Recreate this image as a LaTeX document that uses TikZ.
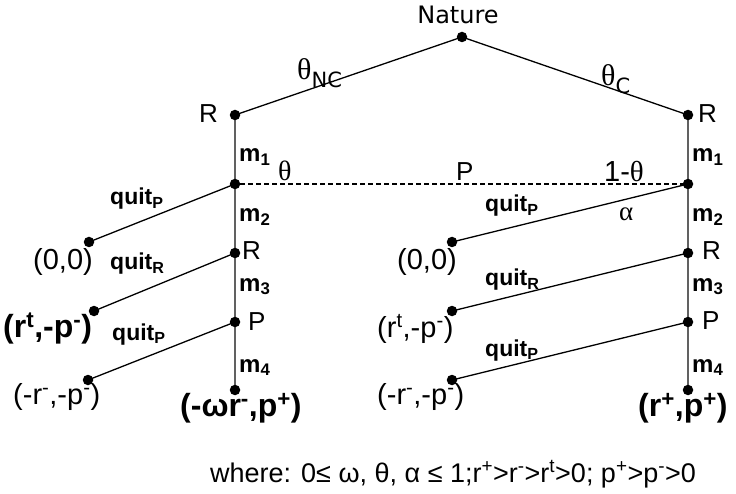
\documentclass[tikz,border=0pt]{standalone}
\usepackage{fontspec}
\setmainfont{Liberation Sans}
\newfontfamily\natfont{DejaVu Sans}
\newfontfamily\greekfont{Liberation Serif}
\usetikzlibrary{positioning,backgrounds}

\tikzset{
	dot/.style={circle, fill=black, inner sep=0pt, minimum size=10.5pt},
	branch/.style={line width=1.3pt},
	spine/.style={line width=2.4pt, draw=black!62},
	lbl/.style={inner sep=0pt, anchor=base west, font=\fontsize{26}{30}\selectfont},
	paylbl/.style={lbl, font=\fontsize{29}{33}\selectfont},
	boldpay/.style={lbl, font=\bfseries\fontsize{32}{36}\selectfont},
	mlbl/.style={lbl, font=\bfseries\fontsize{24}{28}\selectfont},
	qlbl/.style={lbl, font=\bfseries\fontsize{23}{27}\selectfont}
}
\newcommand{\thet}{{\greekfont θ}}

\begin{document}
\begin{tikzpicture}[x=1pt,y=-1pt]
	\useasboundingbox (0,0) rectangle (736,494);

	% decision nodes
	\node[dot] (nat) at (462,37) {};
	\foreach \s/\x in {L/235,R/688} {
		\node[dot] (r\s) at (\x,115) {};
		\node[dot] (p\s) at (\x,184) {};
		\node[dot] (rr\s) at (\x,253) {};
		\node[dot] (pp\s) at (\x,322) {};
		\node[dot] (end\s) at (\x,390) {};
	}
	% terminal nodes after quitting
	\node[dot] (qL1) at (89,242) {};
	\node[dot] (qL2) at (94,311) {};
	\node[dot] (qL3) at (88,380) {};
	\node[dot] (qR1) at (452,242) {};
	\node[dot] (qR2) at (452,311) {};
	\node[dot] (qR3) at (452,380) {};

	\begin{scope}[on background layer]
	\draw[branch] (nat.center) -- (rL.center);
	\draw[branch] (nat.center) -- (rR.center);
	\foreach \s in {L,R} {
		\draw[spine] (r\s.center) -- (p\s.center) -- (rr\s.center) -- (pp\s.center) -- (end\s.center);
		\draw[branch] (p\s.center) -- (q\s1.center);
		\draw[branch] (rr\s.center) -- (q\s2.center);
		\draw[branch] (pp\s.center) -- (q\s3.center);
	}
	\draw[branch, line width=1.1pt, dash pattern=on 4.5pt off 3.5pt] (pL) -- (pR);
	\end{scope}

	% labels
	\node[lbl, anchor=base, font=\natfont\fontsize{24}{28}\selectfont] (natlbl) at (458,24) {Nature};
	\node[lbl] (thnc) at (297,80) {\fontsize{30}{34}\selectfont\thet\textsubscript{\natfont NC}};
	\node[lbl] (thc) at (601,86) {\fontsize{30}{34}\selectfont\thet\textsubscript{\natfont C}};
	\node[lbl] (rLlbl) at (199,123) {R};
	\node[lbl] (rRlbl) at (698,123) {R};
	\node[lbl] (thlbl) at (278,181) {\fontsize{28}{32}\selectfont\thet};
	\node[lbl] (plbl) at (456,181) {P};
	\node[lbl, font=\fontsize{29}{33}\selectfont] (omth) at (604,182) {1-\thet};
	\node[lbl] (alpha) at (619,221) {\fontsize{27}{31}\selectfont{\greekfont α}};
	\node[lbl] (rrLlbl) at (242,260) {R};
	\node[lbl] (rrRlbl) at (702,260) {R};
	\node[lbl] (ppLlbl) at (248,330) {P};
	\node[lbl] (ppRlbl) at (702,329) {P};

	\foreach \x/\s in {239/L,692/R} {
		\node[mlbl] at (\x,162) {m\textsubscript{1}};
		\node[mlbl] at (\x,222) {m\textsubscript{2}};
		\node[mlbl] at (\x,291) {m\textsubscript{3}};
		\node[mlbl] at (\x,372) {m\textsubscript{4}};
	}

	\node[qlbl] (qpL1) at (110,205) {quit\textsubscript{P}};
	\node[qlbl] (qrL2) at (110,270) {quit\textsubscript{R}};
	\node[qlbl] (qpL3) at (112,340) {quit\textsubscript{P}};
	\node[qlbl] (qpR1) at (485,212) {quit\textsubscript{P}};
	\node[qlbl] (qrR2) at (485,286) {quit\textsubscript{R}};
	\node[qlbl] (qpR3) at (485,356) {quit\textsubscript{P}};

	% payoffs
	\node[paylbl] (payL1) at (33,270) {(0,0)};
	\node[paylbl] (payR1) at (397,270) {(0,0)};
	\node[boldpay] (payL2) at (3,337) {(r\textsuperscript{t},-p\textsuperscript{-})};
	\node[paylbl] (payR2) at (377,337) {(r\textsuperscript{t},-p\textsuperscript{-})};
	\node[paylbl] (payL3) at (13,404) {(-r\textsuperscript{-},-p\textsuperscript{-})};
	\node[paylbl] (payR3) at (377,404) {(-r\textsuperscript{-},-p\textsuperscript{-})};
	\node[boldpay] (payL4) at (180,416) {(-ωr\textsuperscript{-},p\textsuperscript{+})};
	\node[boldpay] (payR4) at (638,416) {(r\textsuperscript{+},p\textsuperscript{+})};

	\node[lbl, font=\fontsize{27}{31}\selectfont] (note) at (210,482) {where: 0≤ ω, θ, α ≤ 1;r\textsuperscript{+}>r\textsuperscript{-}>r\textsuperscript{t}>0; p\textsuperscript{+}>p\textsuperscript{-}>0};
\end{tikzpicture}
\end{document}
